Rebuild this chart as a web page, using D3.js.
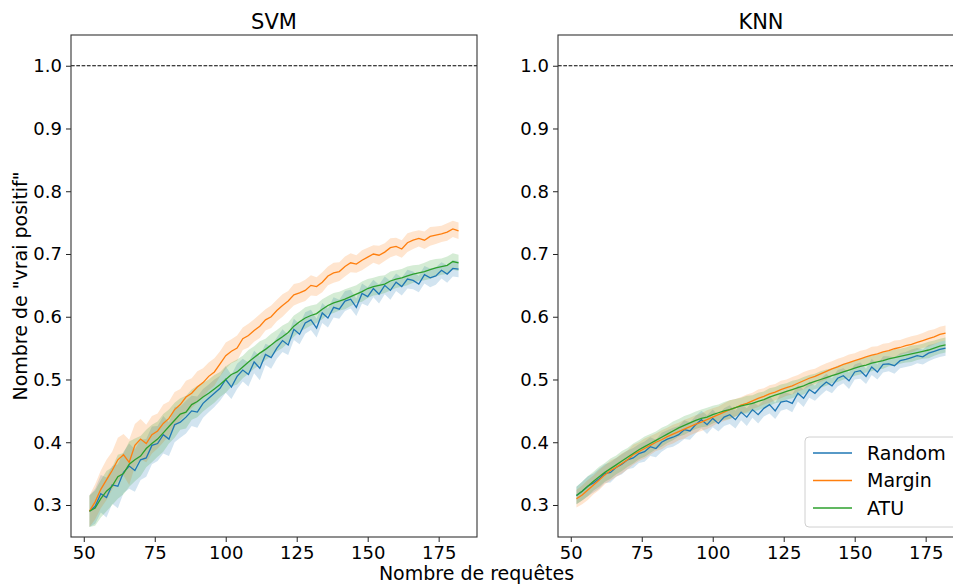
<!DOCTYPE html>
<html><head><meta charset="utf-8">
<script src="https://cdn.jsdelivr.net/npm/d3@7"></script>
<style>body{margin:0;background:#fff}svg{display:block}text{font-family:"DejaVu Sans",sans-serif;fill:#000}</style>
</head><body><svg id="c" width="953" height="585"></svg>
<script>
const xs = d3.range(52, 183, 2);
const panels = ["SVM", "KNN"];
const seriesNames = ["Random", "Margin", "ATU"];
const colors = ["#1f77b4", "#ff7f0e", "#2ca02c"];
const xTicks = [50, 75, 100, 125, 150, 175];
const yTicks = [0.3, 0.4, 0.5, 0.6, 0.7, 0.8, 0.9, 1.0];

const svmRandom = [0.290,0.298,0.318,0.312,0.332,0.330,0.352,0.362,0.355,0.372,0.375,
  0.395,0.398,0.412,0.405,0.428,0.432,0.440,0.450,0.448,0.462,0.470,
  0.478,0.486,0.500,0.488,0.505,0.515,0.508,0.528,0.518,0.540,0.535,
  0.550,0.562,0.555,0.580,0.572,0.590,0.595,0.582,0.606,0.598,0.615,
  0.612,0.625,0.628,0.615,0.637,0.632,0.645,0.636,0.650,0.642,0.655,
  0.648,0.660,0.658,0.652,0.667,0.662,0.665,0.674,0.668,0.677,0.676];
const svmMargin = [0.290,0.305,0.325,0.340,0.355,0.372,0.380,0.368,0.395,0.405,0.398,
  0.412,0.418,0.430,0.438,0.452,0.460,0.472,0.478,0.488,0.495,0.505,
  0.512,0.525,0.538,0.545,0.550,0.565,0.570,0.578,0.585,0.595,0.600,
  0.610,0.618,0.625,0.635,0.638,0.642,0.650,0.648,0.655,0.665,0.670,
  0.672,0.680,0.686,0.684,0.690,0.695,0.700,0.698,0.703,0.710,0.712,
  0.708,0.718,0.722,0.725,0.722,0.728,0.730,0.732,0.735,0.740,0.737];
const svmATU = [0.290,0.295,0.310,0.322,0.330,0.345,0.350,0.365,0.372,0.378,0.390,
  0.398,0.405,0.415,0.425,0.435,0.445,0.448,0.460,0.465,0.472,0.478,
  0.485,0.492,0.500,0.508,0.512,0.520,0.528,0.535,0.542,0.548,0.555,
  0.562,0.568,0.575,0.585,0.592,0.598,0.602,0.605,0.612,0.618,0.622,
  0.625,0.628,0.632,0.636,0.640,0.645,0.648,0.650,0.652,0.657,0.660,
  0.662,0.665,0.668,0.670,0.672,0.675,0.678,0.680,0.682,0.688,0.686];
const knnRandom = [0.315,0.322,0.330,0.335,0.342,0.350,0.352,0.360,0.365,0.372,0.375,
  0.382,0.385,0.393,0.390,0.400,0.405,0.408,0.412,0.420,0.418,0.428,
  0.436,0.428,0.438,0.430,0.440,0.444,0.436,0.448,0.440,0.452,0.444,
  0.454,0.460,0.450,0.464,0.466,0.462,0.478,0.470,0.484,0.478,0.488,
  0.496,0.490,0.502,0.506,0.498,0.512,0.514,0.505,0.520,0.512,0.524,
  0.525,0.522,0.530,0.532,0.535,0.538,0.536,0.542,0.545,0.548,0.550];
const knnMargin = [0.310,0.316,0.324,0.332,0.340,0.348,0.355,0.360,0.366,0.372,0.380,
  0.385,0.390,0.395,0.400,0.404,0.409,0.413,0.417,0.421,0.425,0.429,
  0.432,0.436,0.440,0.444,0.448,0.452,0.455,0.459,0.462,0.466,0.470,
  0.473,0.477,0.480,0.484,0.487,0.490,0.494,0.498,0.502,0.505,0.509,
  0.513,0.517,0.520,0.524,0.527,0.530,0.533,0.536,0.539,0.541,0.544,
  0.546,0.549,0.551,0.554,0.556,0.559,0.562,0.565,0.568,0.572,0.574];
const knnATU = [0.315,0.322,0.330,0.338,0.345,0.352,0.358,0.364,0.370,0.376,0.382,
  0.388,0.393,0.398,0.403,0.408,0.413,0.418,0.423,0.427,0.431,0.435,
  0.438,0.440,0.444,0.447,0.450,0.452,0.455,0.458,0.460,0.462,0.465,
  0.468,0.472,0.475,0.478,0.481,0.484,0.487,0.490,0.494,0.497,0.500,
  0.503,0.506,0.509,0.512,0.515,0.518,0.521,0.523,0.526,0.528,0.530,
  0.533,0.535,0.537,0.539,0.541,0.543,0.545,0.547,0.550,0.553,0.555];

const svmStd = [0.025,0.028,0.030,0.032,0.030,0.035,0.033,0.036,0.034,0.032,0.030,
  0.030,0.028,0.030,0.027,0.028,0.025,0.026,0.024,0.025,0.023,0.022,
  0.022,0.020,0.021,0.019,0.020,0.018,0.019,0.018,0.019,0.017,0.018,
  0.017,0.018,0.016,0.017,0.016,0.017,0.016,0.015,0.016,0.015,0.016,
  0.015,0.016,0.015,0.014,0.016,0.015,0.014,0.015,0.014,0.015,0.014,
  0.014,0.015,0.014,0.013,0.014,0.015,0.014,0.013,0.014,0.013,0.013];
const knnStd = [0.014,0.015,0.016,0.015,0.016,0.015,0.016,0.015,0.016,0.015,0.016,
  0.015,0.016,0.015,0.014,0.015,0.014,0.015,0.014,0.015,0.014,0.014,
  0.014,0.015,0.014,0.013,0.014,0.015,0.014,0.013,0.014,0.013,0.014,
  0.013,0.014,0.013,0.014,0.013,0.014,0.013,0.014,0.013,0.012,0.013,
  0.013,0.012,0.013,0.012,0.013,0.012,0.013,0.012,0.013,0.012,0.013,
  0.012,0.013,0.012,0.012,0.013,0.012,0.012,0.013,0.012,0.012,0.012];

const panelData = [[svmRandom, svmMargin, svmATU], [knnRandom, knnMargin, knnATU]];
const panelStd = [svmStd, knnStd];

const svg = d3.select("#c");
const boxes = [{x0: 71, x1: 477}, {x0: 558, x1: 964}];
const yTop = 35, yBot = 537;

boxes.forEach((b, pi) => {
  const x = d3.scaleLinear().domain([45.5, 188.5]).range([b.x0, b.x1]);
  const y = d3.scaleLinear().domain([0.249, 1.049]).range([yBot, yTop]);
  const g = svg.append("g");
  const clipId = "clip" + pi;
  svg.append("clipPath").attr("id", clipId).append("rect")
    .attr("x", b.x0).attr("y", yTop).attr("width", b.x1 - b.x0).attr("height", yBot - yTop);
  const plot = g.append("g").attr("clip-path", `url(#${clipId})`);

  panelData[pi].forEach((vals, si) => {
    const std = panelStd[pi];
    const area = d3.area().x((d, i) => x(xs[i])).y0((d, i) => y(d - std[i])).y1((d, i) => y(d + std[i]));
    plot.append("path").datum(vals).attr("d", area).attr("fill", colors[si]).attr("fill-opacity", 0.2);
  });
  panelData[pi].forEach((vals, si) => {
    const line = d3.line().x((d, i) => x(xs[i])).y(d => y(d));
    plot.append("path").datum(vals).attr("d", line).attr("fill", "none")
      .attr("stroke", colors[si]).attr("stroke-width", 1.3);
  });
  plot.append("line").attr("x1", b.x0).attr("x2", b.x1).attr("y1", y(1.0)).attr("y2", y(1.0))
    .attr("stroke", "#000").attr("stroke-width", 1.2).attr("stroke-dasharray", "3.7,1.6");

  const xa = g.append("g").attr("transform", `translate(0,${yBot})`)
    .call(d3.axisBottom(x).tickValues(xTicks).tickSize(5).tickPadding(4).tickFormat(d3.format("d")));
  const ya = g.append("g").attr("transform", `translate(${b.x0},0)`)
    .call(d3.axisLeft(y).tickValues(yTicks).tickSize(5).tickPadding(4).tickFormat(d3.format(".1f")));
  [xa, ya].forEach(a => {
    a.select(".domain").remove();
    a.selectAll("line").attr("stroke", "#222");
    a.selectAll("text").style("font-size", "18px").style("font-family", "DejaVu Sans").attr("fill", "#000");
  });
  g.append("rect").attr("x", b.x0).attr("y", yTop).attr("width", b.x1 - b.x0).attr("height", yBot - yTop)
    .attr("fill", "none").attr("stroke", "#333").attr("stroke-width", 1.1);
  g.append("text").attr("x", (b.x0 + b.x1) / 2).attr("y", 29).attr("text-anchor", "middle")
    .style("font-size", "21px").text(panels[pi]);

  if (pi === 1) {
    const lg = g.append("g");
    lg.append("rect").attr("x", 805).attr("y", 437).attr("width", 160).attr("height", 90)
      .attr("rx", 4).attr("fill", "#fff").attr("fill-opacity", 0.8).attr("stroke", "#d0d0d0");
    seriesNames.forEach((n, si) => {
      const yy = 453 + si * 27.5;
      lg.append("line").attr("x1", 813).attr("x2", 852).attr("y1", yy).attr("y2", yy)
        .attr("stroke", colors[si]).attr("stroke-width", 1.3);
      lg.append("text").attr("x", 867).attr("y", yy).attr("dy", "0.35em").style("font-size", "19px").text(n);
    });
  }
});

svg.append("text").attr("x", 476.5).attr("y", 580).attr("text-anchor", "middle")
  .style("font-size", "19px").text("Nombre de requêtes");
svg.append("text").attr("transform", "translate(27,286) rotate(-90)").attr("text-anchor", "middle")
  .style("font-size", "19px").text('Nombre de "vrai positif"');
</script></body></html>
